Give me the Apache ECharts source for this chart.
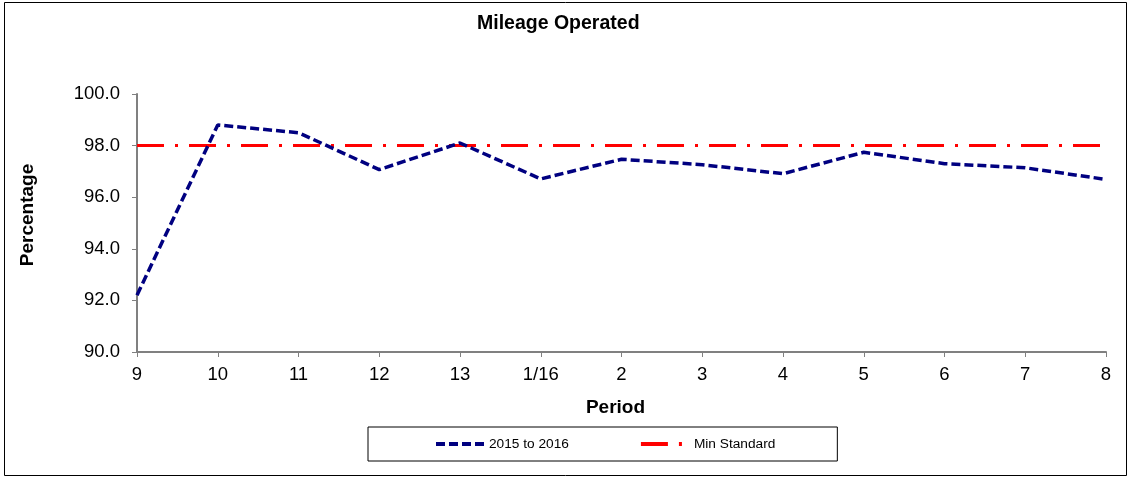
<!DOCTYPE html>
<html>
<head>
<meta charset="utf-8">
<script src="https://cdn.jsdelivr.net/npm/echarts@6/dist/echarts.min.js"></script>
<style>
html,body{margin:0;padding:0;background:#fff;}
#chart{width:1131px;height:477px;}
</style>
</head>
<body>
<div id="chart"></div>
<script>
const categories = ["9","10","11","12","13","1/16","2","3","4","5","6","7","8"];
const mileage = [92.2, 98.8, 98.5, 97.07, 98.1, 96.71, 97.47, 97.26, 96.91, 97.74, 97.3, 97.14, 96.69];
const minStandard = [98, 98, 98, 98, 98, 98, 98, 98, 98, 98, 98, 98, 98];
const yTicks = {min: 90, max: 100, interval: 2};

const FONT = "Arial, 'Liberation Sans', sans-serif";
const chart = echarts.init(document.getElementById('chart'), null, {renderer: 'canvas'});
chart.setOption({
  animation: false,
  backgroundColor: '#fff',
  title: {
    text: 'Mileage Operated',
    left: 477, top: 14, padding: 0,
    textStyle: {fontFamily: FONT, fontSize: 19.5, fontWeight: 'bold', color: '#000'}
  },
  graphic: [{
    type: 'rect', silent: true,
    shape: {x: 4.5, y: 2.5, width: 1122, height: 473},
    style: {fill: 'none', stroke: '#000', lineWidth: 1}
  }],
  legend: {
    left: 368, top: 427,
    padding: [10, 62, 10, 66],
    itemWidth: 48, itemHeight: 14, itemGap: 70,
    borderColor: '#000', borderWidth: 1,
    itemStyle: {color: 'rgba(0,0,0,0)', borderWidth: 0, opacity: 0},
    lineStyle: {width: 4},
    textStyle: {fontFamily: FONT, fontSize: 13.7, color: '#000'},
    data: ['2015 to 2016', 'Min Standard']
  },
  grid: {left: 137, right: 25, top: 94, bottom: 125, containLabel: false},
  xAxis: {
    type: 'category', data: categories, boundaryGap: false,
    name: 'Period', nameLocation: 'middle', nameGap: 46,
    nameTextStyle: {fontFamily: FONT, fontSize: 19, fontWeight: 'bold', color: '#000', padding: [0, 12, 0, 0]},
    axisLine: {lineStyle: {color: '#808080', width: 2}},
    axisTick: {show: true, length: 5, alignWithLabel: true, lineStyle: {color: '#808080', width: 1}},
    axisLabel: {fontFamily: FONT, fontSize: 18.5, color: '#000', margin: 13},
    splitLine: {show: false}
  },
  yAxis: {
    type: 'value', min: yTicks.min, max: yTicks.max, interval: yTicks.interval,
    name: 'Percentage', nameLocation: 'middle', nameGap: 100, nameRotate: 90,
    nameTextStyle: {fontFamily: FONT, fontSize: 19, fontWeight: 'bold', color: '#000', padding: [0, 0, 0, 16]},
    axisLine: {show: true, lineStyle: {color: '#808080', width: 2}},
    axisTick: {show: true, length: 5, lineStyle: {color: '#808080', width: 1}},
    axisLabel: {fontFamily: FONT, fontSize: 18.5, color: '#000', margin: 17,
      formatter: v => v.toFixed(1)},
    splitLine: {show: false}
  },
  series: [
    {
      name: 'Min Standard', type: 'line', data: minStandard,
      symbol: 'none', z: 2,
      itemStyle: {color: '#FF0000'},
      lineStyle: {color: '#FF0000', width: 3, type: [27, 11, 3, 11], cap: 'butt'}
    },
    {
      name: '2015 to 2016', type: 'line', data: mileage,
      symbol: 'none', z: 3,
      itemStyle: {color: '#000080'},
      lineStyle: {color: '#000080', width: 3.5, type: [9, 4], cap: 'butt'}
    }
  ]
});
</script>
</body>
</html>
